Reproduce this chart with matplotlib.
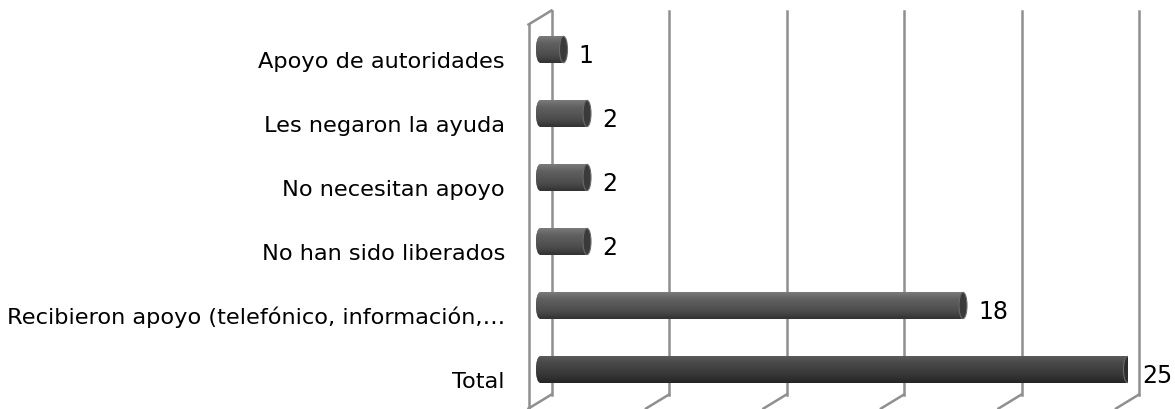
import numpy as np
import matplotlib
matplotlib.use('Agg')
import matplotlib.pyplot as plt
from matplotlib.patches import Ellipse
from matplotlib.colors import LinearSegmentedColormap

categorias = ['Apoyo de autoridades', 'Les negaron la ayuda', 'No necesitan apoyo',
              'No han sido liberados', 'Recibieron apoyo (telefónico, información,…',
              'Total']
valores = [1, 2, 2, 2, 18, 25]
ticks_x = [0, 5, 10, 15, 20, 25]

plt.rcParams['font.family'] = 'DejaVu Sans'

# perspective depth in data units (px / px-per-unit)
px_x = 587.5 / 25
px_y = 64
dx = 11.5 / px_x
dy = 7 / px_y
cap = 8 / px_x
x_min = -2

fig = plt.figure(figsize=(11.75, 4.09), dpi=100)
ax = fig.add_axes([(540 + x_min * px_x) / 1175, 7.5 / 409,
                   (25 - x_min) * px_x / 1175, 384 / 409])
ax.set_axis_off()

n = len(categorias)
ypos = np.arange(n)[::-1]
alto = 0.41

grid_col = '#8f8f8f'
lw = 1.8
y0, y1 = -0.5, 5.5

# back wall + floor
for v in ticks_x:
    ax.plot([v + dx, v + dx], [y0 + dy, y1 + dy], color=grid_col, lw=lw, zorder=1, clip_on=False)
    ax.plot([v - dx, v + dx], [y0 - dy, y0 + dy], color=grid_col, lw=lw, zorder=1, clip_on=False)
# left wall
ax.plot([-dx, -dx], [y0 - dy, y1 - dy], color=grid_col, lw=lw, zorder=1, clip_on=False)
ax.plot([-dx, dx], [y1 - dy, y1 + dy], color=grid_col, lw=lw, zorder=1, clip_on=False)

cm_med = LinearSegmentedColormap.from_list('med', ['#7a7a7a', '#616161', '#565656', '#494949', '#323232'])
cm_tot = LinearSegmentedColormap.from_list('tot', ['#5a5a5a', '#484848', '#3f3f3f', '#343434', '#242424'])
grad = np.linspace(0, 1, 64).reshape(-1, 1)

bars = ax.barh(ypos, valores, height=alto, color='#505050', zorder=2)
for b, v, y, cat in zip(bars, valores, ypos, categorias):
    cm = cm_tot if cat == 'Total' else cm_med
    left = Ellipse((0, y), cap, alto, facecolor='#505050', edgecolor='none', zorder=2)
    ax.add_patch(left)
    for clip in (b, left):
        im = ax.imshow(grad, cmap=cm, extent=[-cap, v, y - alto / 2, y + alto / 2],
                       aspect='auto', origin='upper', zorder=3)
        im.set_clip_path(clip)
    endc = '#2c2c2c' if cat == 'Total' else '#3a3a3a'
    ax.add_patch(Ellipse((v, y), cap, alto, facecolor=endc, edgecolor='#6a6a6a',
                         lw=0.8, zorder=4))
    ax.text(v + 15 / px_x, y - 13.7 / px_y, str(v), fontsize=17, va='baseline',
            ha='left', color='black')
    ax.text(-35 / px_x, y - 18 / px_y, cat, fontsize=16.2, va='baseline',
            ha='right', color='black', clip_on=False)

ax.set_xlim(x_min, 25)
ax.set_ylim(y0, y1)

fig.savefig('out.png', dpi=100)
